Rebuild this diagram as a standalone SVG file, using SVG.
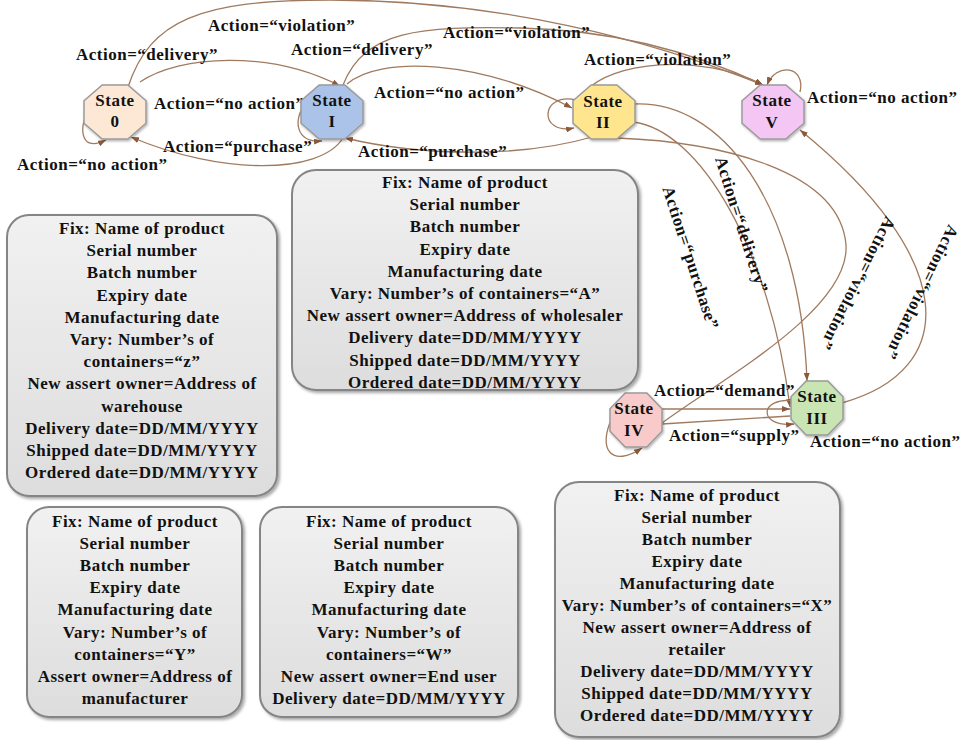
<svg xmlns="http://www.w3.org/2000/svg" width="962" height="740" viewBox="0 0 962 740">
  <defs>
    <style>
      .t { font-family: "Liberation Serif", "Times New Roman", serif; font-weight: bold; font-size: 17px; fill: #111; letter-spacing: 0.5px; }
      .c { text-anchor: middle; }
      .edge { fill: none; stroke: #a07a5e; stroke-width: 1.3; }
      .arr { marker-end: url(#ah); }
      .box { fill: url(#boxFill); stroke: #858585; stroke-width: 2; filter: url(#shadow); }
      .oct { stroke: #9a9a9a; stroke-width: 1.5; filter: url(#shadow2); }
    </style>
    <marker id="ah" viewBox="0 0 8 6" refX="8" refY="3" markerWidth="8" markerHeight="6" markerUnits="userSpaceOnUse" orient="auto">
      <path d="M0,0 L8,3 L0,6 z" fill="#8b5a3c"/>
    </marker>
    <linearGradient id="boxFill" x1="0" y1="0" x2="0" y2="1">
      <stop offset="0" stop-color="#f1f1f1"/>
      <stop offset="1" stop-color="#dddddd"/>
    </linearGradient>
    <filter id="shadow" x="-10%" y="-10%" width="120%" height="120%">
      <feDropShadow dx="2" dy="2" stdDeviation="1.5" flood-color="#000" flood-opacity="0.35"/>
    </filter>
    <filter id="shadow2" x="-20%" y="-20%" width="140%" height="140%">
      <feDropShadow dx="1" dy="1.5" stdDeviation="1" flood-color="#000" flood-opacity="0.3"/>
    </filter>
    <!-- octagon outlines centred on the origin -->
    <polygon id="octL" points="-31,-11.2 -12.8,-27 12.8,-27 31,-11.2 31,11.2 12.8,27 -12.8,27 -31,11.2"/>
    <polygon id="octS" points="-26,-11.2 -10.8,-27 10.8,-27 26,-11.2 26,11.2 10.8,27 -10.8,27 -26,11.2"/>
  </defs>

  <rect width="962" height="740" fill="#ffffff"/>

  <!-- transitions between states -->
  <g id="connectors">
    <path class="edge arr" d="M128,87 C150,20 200,0 330,0 C500,0 650,40 763,85"/>
    <path class="edge arr" d="M343,85 C365,30 420,26 520,28 C620,30 700,55 763,85"/>
    <path class="edge arr" d="M585,92 C610,62 700,52 763,85"/>
    <path class="edge arr" d="M140,82 C180,55 270,50 340,86"/>
    <path class="edge arr" d="M347,84 C380,55 480,60 572,108"/>
    <path class="edge arr" d="M576,100 C540,92 538,135 574,128"/>
    <path class="edge arr" d="M592,137 C520,158 420,156 345,138"/>
    <path class="edge arr" d="M343,138 C320,175 220,175 131,137"/>
    <path class="edge arr" d="M306,103 C292,120 296,143 322,141"/>
    <path class="edge arr" d="M88,110 C78,132 82,152 106,140"/>
    <path class="edge arr" d="M800,92 C806,66 776,62 767,85"/>
    <path class="edge arr" d="M634,104 C720,100 800,200 807,381"/>
    <path class="edge arr" d="M633,122 C700,130 770,250 790,407"/>
    <path class="edge" d="M617,138 C720,142 840,170 846,245 C850,310 720,380 662,423"/>
    <path class="edge arr" d="M842,403 C960,370 960,260 800,130"/>
    <path class="edge arr" d="M662,409 L790,409"/>
    <path class="edge" d="M790,416 L662,424"/>
    <path class="edge arr" d="M795,401 C758,396 758,428 794,424"/>
    <path class="edge arr" d="M612,418 C597,450 612,468 642,448"/>
  </g>

  <!-- transition labels -->
  <g id="edge-labels" class="t">
    <text x="208" y="31">Action=“violation”</text>
    <text x="76" y="60">Action=“delivery”</text>
    <text x="291" y="55">Action=“delivery”</text>
    <text x="443" y="38">Action=“violation”</text>
    <text x="584" y="65">Action=“violation”</text>
    <text x="154" y="109">Action=“no action”</text>
    <text x="374" y="98">Action=“no action”</text>
    <text x="807" y="103">Action=“no action”</text>
    <text x="163" y="152">Action=“purchase”</text>
    <text x="358" y="157">Action=“purchase”</text>
    <text x="17" y="170">Action=“no action”</text>
    <text x="654" y="396">Action=“demand”</text>
    <text x="669" y="441">Action=“supply”</text>
    <text x="810" y="447">Action=“no action”</text>
    <text class="c" transform="translate(690,258) rotate(72)" y="5">Action=“purchase”</text>
    <text class="c" transform="translate(741,225) rotate(72.5)" y="5">Action=“delivery”</text>
    <text class="c" transform="translate(857,283) rotate(117)" y="5">Action=“violation”</text>
    <text class="c" transform="translate(921,292) rotate(116)" y="5">Action=“violation”</text>
  </g>

  <!-- states -->
  <g id="state-0">
    <use href="#octL" x="115" y="112" class="oct" fill="#fde8d6"/>
    <text class="t c" x="115" y="106">State</text>
    <text class="t c" x="115" y="127">0</text>
  </g>
  <g id="state-I">
    <use href="#octL" x="332" y="112" class="oct" fill="#abc3e8"/>
    <text class="t c" x="332" y="106">State</text>
    <text class="t c" x="332" y="127">I</text>
  </g>
  <g id="state-II">
    <use href="#octL" x="604" y="112" class="oct" fill="#ffe68e"/>
    <text class="t c" x="603" y="107">State</text>
    <text class="t c" x="603" y="128">II</text>
  </g>
  <g id="state-V">
    <use href="#octL" x="773" y="112" class="oct" fill="#f3c6f3"/>
    <text class="t c" x="772" y="106">State</text>
    <text class="t c" x="772" y="128">V</text>
  </g>
  <g id="state-III">
    <use href="#octS" x="817" y="408" class="oct" fill="#c8e5b3"/>
    <text class="t c" x="817" y="402">State</text>
    <text class="t c" x="817" y="424">III</text>
  </g>
  <g id="state-IV">
    <use href="#octS" x="636" y="420" class="oct" fill="#f8caca"/>
    <text class="t c" x="634" y="414">State</text>
    <text class="t c" x="634" y="436">IV</text>
  </g>

  <!-- attribute boxes -->
  <g id="box-warehouse">
    <rect class="box" x="7" y="215" width="270" height="281" rx="22"/>
    <text class="t c" x="142" y="234">Fix: Name of product</text>
    <text class="t c" x="142" y="256.2">Serial number</text>
    <text class="t c" x="142" y="278.4">Batch number</text>
    <text class="t c" x="142" y="300.6">Expiry date</text>
    <text class="t c" x="142" y="322.8">Manufacturing date</text>
    <text class="t c" x="142" y="345">Vary: Number’s of</text>
    <text class="t c" x="142" y="367.2">containers=“z”</text>
    <text class="t c" x="142" y="389.4">New assert owner=Address of</text>
    <text class="t c" x="142" y="411.6">warehouse</text>
    <text class="t c" x="142" y="433.8">Delivery date=DD/MM/YYYY</text>
    <text class="t c" x="142" y="456">Shipped date=DD/MM/YYYY</text>
    <text class="t c" x="142" y="478.2">Ordered date=DD/MM/YYYY</text>
  </g>
  <g id="box-wholesaler">
    <rect class="box" x="292" y="170" width="346" height="220" rx="24"/>
    <text class="t c" x="465" y="188">Fix: Name of product</text>
    <text class="t c" x="465" y="210.2">Serial number</text>
    <text class="t c" x="465" y="232.4">Batch number</text>
    <text class="t c" x="465" y="254.6">Expiry date</text>
    <text class="t c" x="465" y="276.8">Manufacturing date</text>
    <text class="t c" x="465" y="299">Vary: Number’s of containers=“A”</text>
    <text class="t c" x="465" y="321.2">New assert owner=Address of wholesaler</text>
    <text class="t c" x="465" y="343.4">Delivery date=DD/MM/YYYY</text>
    <text class="t c" x="465" y="365.6">Shipped date=DD/MM/YYYY</text>
    <text class="t c" x="465" y="387.8">Ordered date=DD/MM/YYYY</text>
  </g>
  <g id="box-manufacturer">
    <rect class="box" x="27" y="507" width="215" height="210" rx="22"/>
    <text class="t c" x="135" y="527">Fix: Name of product</text>
    <text class="t c" x="135" y="549.1">Serial number</text>
    <text class="t c" x="135" y="571.2">Batch number</text>
    <text class="t c" x="135" y="593.3">Expiry date</text>
    <text class="t c" x="135" y="615.4">Manufacturing date</text>
    <text class="t c" x="135" y="637.5">Vary: Number’s of</text>
    <text class="t c" x="135" y="659.6">containers=“Y”</text>
    <text class="t c" x="135" y="681.7">Assert owner=Address of</text>
    <text class="t c" x="135" y="703.8">manufacturer</text>
  </g>
  <g id="box-end-user">
    <rect class="box" x="260" y="507" width="258" height="210" rx="22"/>
    <text class="t c" x="389" y="527">Fix: Name of product</text>
    <text class="t c" x="389" y="549.1">Serial number</text>
    <text class="t c" x="389" y="571.2">Batch number</text>
    <text class="t c" x="389" y="593.3">Expiry date</text>
    <text class="t c" x="389" y="615.4">Manufacturing date</text>
    <text class="t c" x="389" y="637.5">Vary: Number’s of</text>
    <text class="t c" x="389" y="659.6">containers=“W”</text>
    <text class="t c" x="389" y="681.7">New assert owner=End user</text>
    <text class="t c" x="389" y="703.8">Delivery date=DD/MM/YYYY</text>
  </g>
  <g id="box-retailer">
    <rect class="box" x="555" y="482" width="285" height="255" rx="24"/>
    <text class="t c" x="697" y="501">Fix: Name of product</text>
    <text class="t c" x="697" y="523">Serial number</text>
    <text class="t c" x="697" y="545">Batch number</text>
    <text class="t c" x="697" y="567">Expiry date</text>
    <text class="t c" x="697" y="589">Manufacturing date</text>
    <text class="t c" x="697" y="611">Vary: Number’s of containers=“X”</text>
    <text class="t c" x="697" y="633">New assert owner=Address of</text>
    <text class="t c" x="697" y="655">retailer</text>
    <text class="t c" x="697" y="677">Delivery date=DD/MM/YYYY</text>
    <text class="t c" x="697" y="699">Shipped date=DD/MM/YYYY</text>
    <text class="t c" x="697" y="721">Ordered date=DD/MM/YYYY</text>
  </g>
</svg>
